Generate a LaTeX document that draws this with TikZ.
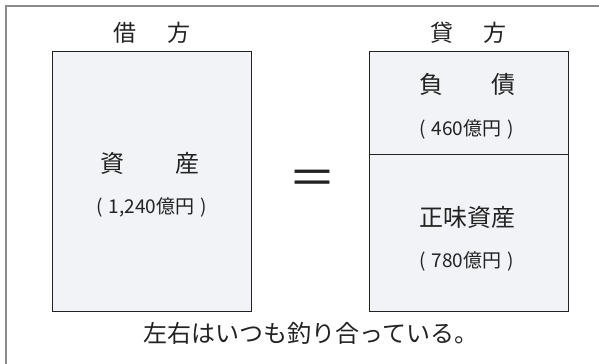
\documentclass[tikz,border=0pt]{standalone}
\usepackage{fontspec}
\setmainfont{Noto Sans CJK JP}
\definecolor{boxfill}{HTML}{F2F3F7}
\definecolor{ink}{HTML}{222222}
\tikzset{
  sheet/.style={rectangle, draw=ink, fill=boxfill, line width=0.8bp, inner sep=0pt},
  head/.style={text=ink, font=\fontsize{23bp}{26bp}\selectfont, inner sep=0pt},
  item/.style={text=ink, font=\fontsize{24bp}{27bp}\selectfont, inner sep=0pt},
  amount/.style={text=ink, font=\fontsize{19bp}{22bp}\selectfont, inner sep=0pt}
}

\begin{document}
\begin{tikzpicture}[x=1bp, y=-1bp]
  \useasboundingbox (0,0) rectangle (599,363);
  \draw[line width=1.6bp, color=black!45] (6,370) -- (6,6) -- (605,6);
  % boxes
  \node[sheet, minimum width=199bp, minimum height=260bp] (asset) at (151.5,181) {};
  \node[sheet, minimum width=199bp, minimum height=103bp] (debt) at (468.5,102.5) {};
  \node[sheet, minimum width=199bp, minimum height=157bp] (equity) at (468.5,232.5) {};
  % headings
  \node[head] (debit) at (152,33) {借\hspace{31bp}方};
  \node[head] (credit) at (468.5,33) {貸\hspace{30bp}方};
  % contents
  \node[item] (assetname) at (150,163) {資\hspace{51bp}産};
  \node[amount] (assetval) at (151.5,207) {(\hspace{6bp}1,240億円\hspace{6bp})};
  \node[item] (debtname) at (467.5,84) {負\hspace{49bp}債};
  \node[amount] (debtval) at (466.5,129) {(\hspace{6bp}460億円\hspace{6bp})};
  \node[item] (equityname) at (467.5,217) {正味資産};
  \node[amount] (equityval) at (466.5,261) {(\hspace{6bp}780億円\hspace{6bp})};
  \node[text=ink, font=\fontsize{48bp}{50bp}\selectfont, inner sep=0pt] (equal) at (312,183) {＝};
  \node[item, anchor=west] (balance) at (143,333) {左右はいつも釣り合っている。};
\end{tikzpicture}
\end{document}
